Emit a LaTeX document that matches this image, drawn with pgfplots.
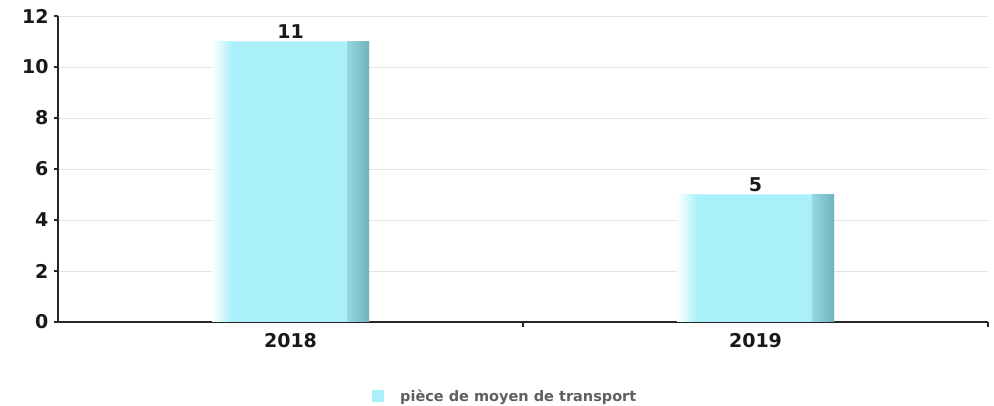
\documentclass[border=0pt]{standalone}
\usepackage{fontspec}
\setmainfont{DejaVu Sans}
\usepackage{pgfplots}
\pgfplotsset{compat=1.18}
\definecolor{barcyan}{RGB}{170,240,250}
\definecolor{bardark1}{RGB}{150,215,225}
\definecolor{bardark2}{RGB}{112,178,188}
\definecolor{gridgray}{RGB}{228,228,228}
\definecolor{leggray}{RGB}{95,95,95}
\begin{document}
\begin{tikzpicture}
\useasboundingbox (0,0) rectangle (994pt,406pt);
\begin{axis}[
  at={(58pt,84pt)}, anchor=south west,
  scale only axis, width=930pt, height=306pt,
  xmin=-0.5, xmax=1.5, ymin=0, ymax=12,
  axis lines*=left,
  axis line style={-, black!85, line width=1.3pt},
  ytick={0,2,...,12},
  xtick={0,1}, xticklabels={2018,2019},
  xtick style={draw=none},
  ytick style={black!85, line width=1.1pt},
  tick align=outside, major tick length=4pt,
  extra x ticks={0.5,1.5}, extra x tick labels={},
  extra x tick style={grid=none, xtick style={draw=black!85, line width=1.3pt}, major tick length=5pt},
  ymajorgrids, grid style={gridgray, line width=0.8pt},
  /pgf/number format/assume math mode=true,
  ticklabel style={font=\bfseries\fontsize{19}{22}\selectfont, text=black!90},
  xticklabel style={yshift=-4pt},
  yticklabel style={xshift=-2pt},
  legend style={at={(0.3376,-0.2418)}, anchor=west, draw=none, fill=none,
    font=\bfseries\fontsize{14.5}{17}\selectfont, text=leggray, inner sep=0pt},
  legend cell align=left,
  ybar, bar width=157pt,
  clip=false,
]
\addplot[draw=none, fill=barcyan,
  legend image code/.code={\fill[barcyan] (0pt,-6pt) rectangle (12pt,6pt);},
  nodes near coords, every node near coord/.append style={font=\bfseries\fontsize{19}{22}\selectfont, text=black!90, yshift=-1pt}]
  coordinates {(0,11) (1,5)};
\addlegendentry{\hspace{14pt}pièce de moyen de transport}
\addplot[forget plot, draw=none, left color=white, right color=barcyan, bar width=20pt, bar shift=-68.5pt]
  coordinates {(0,11)};
\addplot[forget plot, draw=none, left color=white, right color=barcyan, bar width=20pt, bar shift=-68.5pt]
  coordinates {(1,5)};
\addplot[forget plot, draw=none, left color=bardark1, right color=bardark2, bar width=22pt, bar shift=67.5pt]
  coordinates {(0,11)};
\addplot[forget plot, draw=none, left color=bardark1, right color=bardark2, bar width=22pt, bar shift=67.5pt]
  coordinates {(1,5)};
\end{axis}
\end{tikzpicture}
\end{document}
